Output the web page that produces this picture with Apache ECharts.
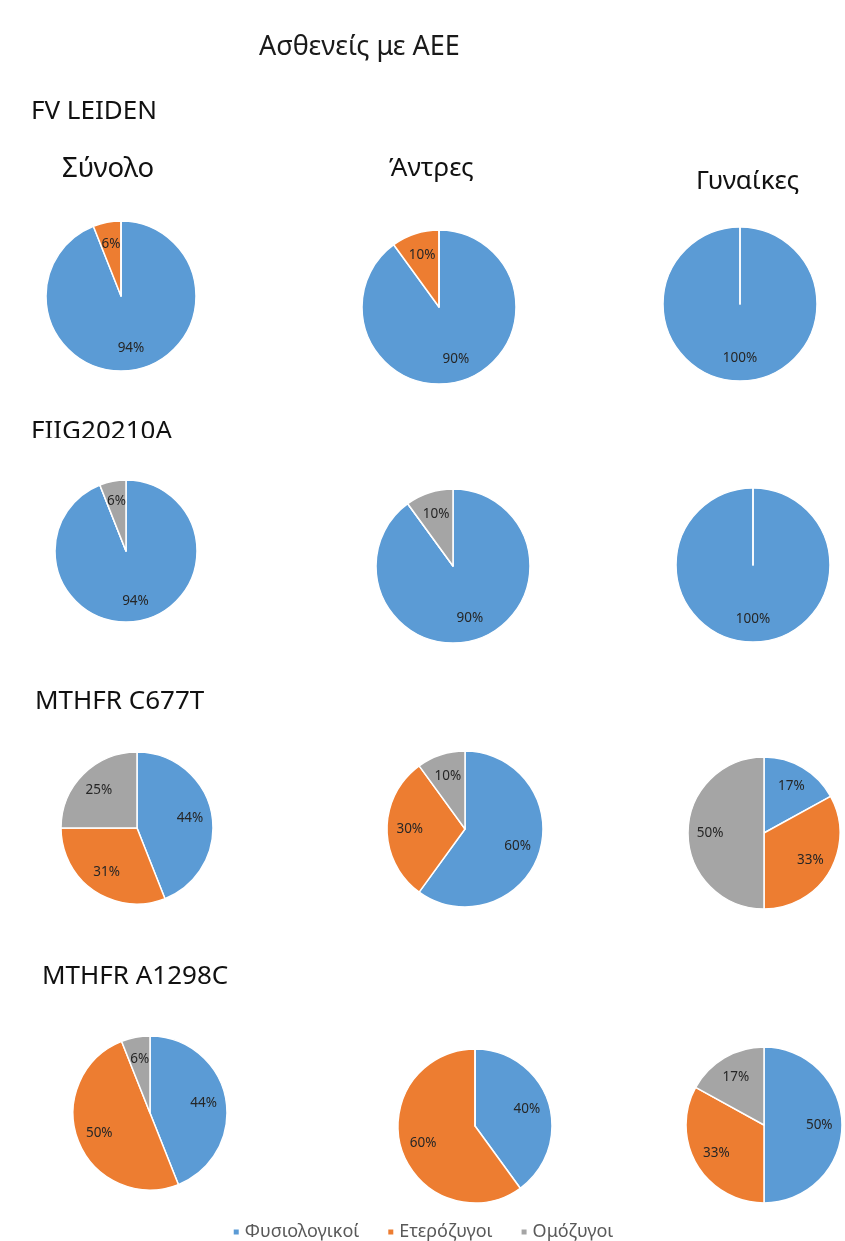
<!DOCTYPE html>
<html>
<head>
<meta charset="utf-8">
<script src="https://cdn.jsdelivr.net/npm/echarts@6/dist/echarts.min.js"></script>
<style>
  html, body { margin: 0; padding: 0; background: #fff; }
  #chart { width: 845px; height: 1241px; }
</style>
</head>
<body>
<div id="chart"></div>
<script>
// Genotype categories (legend order)
const categories = ['Φυσιολογικοί', 'Ετερόζυγοι', 'Ομόζυγοι'];
// Column groups
const groups = ['Σύνολο', 'Άντρες', 'Γυναίκες'];
// Marker names (one row each)
const markers = ['FV LEIDEN', 'FIIG20210A', 'MTHFR C677T', 'MTHFR A1298C'];

// Percentages per group: [Σύνολο, Άντρες, Γυναίκες], each [Φυσιολογικοί, Ετερόζυγοι, Ομόζυγοι]
const fvLeiden    = [[94, 6, 0],   [90, 10, 0],  [100, 0, 0]];
const fiiG20210A  = [[94, 0, 6],   [90, 0, 10],  [100, 0, 0]];
const mthfrC677T  = [[44, 31, 25], [60, 30, 10], [17, 33, 50]];
const mthfrA1298C = [[44, 50, 6],  [40, 60, 0],  [50, 33, 17]];

const rows = [fvLeiden, fiiG20210A, mthfrC677T, mthfrA1298C];

// Layout: pie centres and radii per row / column
const pieLayout = [
  [[121, 296, 75], [439, 307, 77], [740, 304, 77]],
  [[126, 551, 71], [453, 566, 77], [753, 565, 77]],
  [[137, 828, 76], [465, 829, 78], [764, 833, 76]],
  [[150, 1113, 77], [475, 1126, 77], [764, 1125, 78]]
];
const markerTitlePos = [[26, 94], [26, 414], [30, 684], [37, 959]];
const groupTitlePos = [[57, 150], [384, 151], [691, 164]];
const groupTitleSize = [27.5, 26, 26];

const palette = ['#5B9BD5', '#ED7D31', '#A5A5A5'];
const fontFamily = '"Noto Sans", "Open Sans", sans-serif';

const chart = echarts.init(document.getElementById('chart'), null, { renderer: 'canvas' });

const pieSeries = [];
const labelSeries = [];
rows.forEach((row, ri) => {
  row.forEach((vals, ci) => {
    const [cx, cy, r] = pieLayout[ri][ci];
    const data = categories.map((name, k) => ({ name, value: vals[k] }));
    pieSeries.push({
      type: 'pie',
      name: markers[ri] + ' - ' + groups[ci],
      center: [cx, cy],
      radius: [0, r],
      startAngle: 90,
      clockwise: true,
      silent: true,
      itemStyle: { borderColor: '#ffffff', borderWidth: 1.5 },
      label: { show: false },
      labelLine: { show: false },
      emphasis: { disabled: true },
      data
    });
    // Transparent twin carrying the percentage labels further out from the centre
    labelSeries.push({
      type: 'pie',
      center: [cx, cy],
      radius: [0, r * 1.34],
      startAngle: 90,
      clockwise: true,
      silent: true,
      itemStyle: { color: 'rgba(0,0,0,0)', borderWidth: 0 },
      label: {
        show: true,
        position: 'inside',
        formatter: p => (p.value ? p.value + '%' : ''),
        color: '#262626',
        fontSize: 13.5,
        fontFamily
      },
      labelLine: { show: false },
      emphasis: { disabled: true },
      data: categories.map((name, k) => ({ name, value: vals[k] }))
    });
  });
});

const titles = [
  { text: 'Ασθενείς με ΑΕΕ', left: 254, top: 29,
    textStyle: { fontSize: 27, fontWeight: 'normal', color: '#1a1a1a', fontFamily } }
];
markers.forEach((m, i) => {
  titles.push({ text: m, left: markerTitlePos[i][0], top: markerTitlePos[i][1],
    textStyle: { fontSize: 26, fontWeight: 'normal', color: '#111', fontFamily } });
});
groups.forEach((g, i) => {
  titles.push({ text: g, left: groupTitlePos[i][0], top: groupTitlePos[i][1],
    textStyle: { fontSize: groupTitleSize[i], fontWeight: 'normal', color: '#111', fontFamily } });
});

chart.setOption({
  animation: false,
  backgroundColor: '#ffffff',
  color: palette,
  title: titles,
  legend: {
    data: categories,
    top: 1218,
    left: 'center',
    icon: 'rect',
    itemWidth: 7,
    itemHeight: 7,
    itemGap: 27,
    selectedMode: false,
    textStyle: { fontSize: 18, color: '#595959', fontFamily }
  },
  graphic: [
    // the FIIG20210A heading is cropped at its lower edge
    { type: 'rect', z: 100, shape: { x: 20, y: 438, width: 240, height: 14 },
      style: { fill: '#ffffff' } }
  ],
  series: pieSeries.concat(labelSeries)
});
</script>
</body>
</html>
